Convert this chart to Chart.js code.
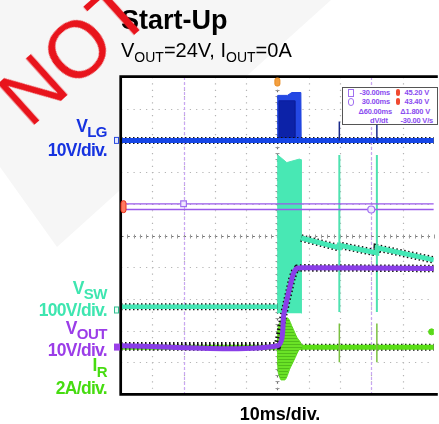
<!DOCTYPE html>
<html>
<head>
<meta charset="utf-8">
<title>Start-Up</title>
<script src="https://cdn.jsdelivr.net/npm/chart.js@4.4.1/dist/chart.umd.min.js"></script>
<style>
  html, body { margin: 0; padding: 0; background: #fff; }
  body { position: relative; width: 439px; height: 424px; overflow: hidden; font-family: "Liberation Sans", Arial, sans-serif; }
  #stampBg { position: absolute; left: 0; top: 0; width: 439px; height: 424px; background: #f6f6f6;
    clip-path: polygon(0 0, 0 167px, 57px 247px, 331px 0); }
  #scope { position: absolute; left: 0; top: 0; }
  .txt { position: absolute; white-space: nowrap; line-height: 1; }
  .lbl { font-weight: bold; font-size: 17.5px; letter-spacing: -0.7px; text-align: right; right: 332px; }
  .lbl sub { font-size: 15px; vertical-align: -5px; letter-spacing: -0.5px; line-height: 1; }
  .sub20 sub { font-size: 14px; vertical-align: -5px; line-height: 1; }
  #meas { position: absolute; left: 342px; top: 87px; width: 96px; height: 38px; box-sizing: border-box;
    border: 1px solid #555; background: #fff; }
  #meas .m { position: absolute; white-space: nowrap; line-height: 1; font-size: 7.5px; font-weight: bold; color: #8a4cf0; letter-spacing: -0.2px; }
  #meas .ic { position: absolute; width: 4px; height: 6px; border: 1px solid #a070f0; }
  #meas .rd { position: absolute; width: 4px; height: 7px; border-radius: 3px; background: #f04a30; }
  #stamp { position: absolute; left: 30px; top: 62.3px; font-size: 80px; line-height: 1; color: #e8141c;
    transform-origin: 0 67.7px; transform: rotate(-42deg); white-space: nowrap; }
</style>
</head>
<body>
<div id="stampBg"></div>
<canvas id="scope" width="439" height="424"></canvas>

<div class="txt" style="left:121px;top:7.1px;font-size:27px;font-weight:bold;">Start-Up</div>
<div class="txt sub20" style="left:121px;top:40.4px;font-size:20px;">V<sub>OUT</sub>=24V, I<sub>OUT</sub>=0A</div>

<div class="txt lbl" style="top:118.2px;color:#1633e0;">V<sub>LG</sub></div>
<div class="txt lbl" style="top:142.2px;color:#1633e0;">10V/div.</div>
<div class="txt lbl" style="top:280.2px;color:#3ee6b0;">V<sub>SW</sub></div>
<div class="txt lbl" style="top:302.2px;color:#3ee6b0;">100V/div.</div>
<div class="txt lbl" style="top:320.2px;color:#9b3de8;">V<sub>OUT</sub></div>
<div class="txt lbl" style="top:342.2px;color:#9b3de8;">10V/div.</div>
<div class="txt lbl" style="top:357.2px;color:#46dc10;">I<sub style="vertical-align:-6px">R</sub></div>
<div class="txt lbl" style="top:380.2px;color:#46dc10;">2A/div.</div>

<div class="txt" style="left:280px;top:404.8px;font-size:18px;font-weight:bold;transform:translateX(-50%);">10ms/div.</div>

<div id="meas">
  <div class="ic" style="left:5px;top:1px;"></div>
  <div class="ic" style="left:5px;top:10px;border-radius:3px;"></div>
  <div class="m" style="right:47px;top:1px;">-30.00ms</div>
  <div class="m" style="right:47px;top:10px;">30.00ms</div>
  <div class="rd" style="left:53px;top:1px;"></div>
  <div class="rd" style="left:53px;top:10px;"></div>
  <div class="m" style="right:8px;top:1px;">45.20 V</div>
  <div class="m" style="right:8px;top:10px;">43.40 V</div>
  <div class="m" style="right:45px;top:20px;">Δ60.00ms</div>
  <div class="m" style="right:7px;top:20px;">Δ1.800 V</div>
  <div class="m" style="left:27px;top:29px;">dV/dt</div>
  <div class="m" style="right:4px;top:29px;">-30.00 V/s</div>
</div>

<div id="stamp">NOT</div>

<script>
// time axis, 10 ms/div, trigger at 0
const timeMin = -50;
const timeMax = 50;

// V_LG, 10 V/div
const vlgLineT = [-50, 50];
const vlgLineV = [0, 0];
const vlgBurstT = [0, 0.1, 3.2, 4.6, 7.5, 7.6];
const vlgBurstV = [0, 14.2, 14.2, 15.1, 15.1, 0];
const vlgCoreT = [0.4, 0.5, 5.5, 5.6];
const vlgCoreV = [0, 12.5, 12.5, 0];
const vlgSpikeT = [19.8, 31.8];
const vlgSpikeV = [0, 6];

// V_SW, 100 V/div
const vswPreT = [-50, 0];
const vswPreV = [10, 10];
const vswBurstT = [0, 0.1, 3.0, 7.0, 7.6, 7.7];
const vswBurstV = [-10, 489, 465, 476, 474, -10];
const vswDecayT = [7.6, 19.8, 19.9, 31.8, 31.9, 50];
const vswDecayV = [227, 196, 204, 180, 196, 158];
const vswSpikeT = [19.8, 31.8];
const vswSpikeV = [-6, 489];

// V_OUT, 10 V/div
const voutT = [-50, 0, 2.1, 4.7, 5.6, 6.4, 8, 50];
const voutV = [0.4, 0.4, 10.7, 21.8, 24.2, 24.9, 25, 24.8];
const cursorT = [-30, 30];
const cursorV = [45.2, 43.4];

// I_R, 2 A/div
const irLineT = [-50, 50];
const irLineA = [0, 0];
const irTopT = [0, 0.1, 0.8, 1.6, 3.2, 4.7, 6.3, 7.3, 7.9];
const irTopA = [0, 0.9, 1.55, 1.85, 1.85, 1.3, 0.6, 0.33, 0.08];
const irBotT = [0, 0.1, 0.6, 1.2, 2.3, 4.1, 5.7, 6.8, 7.9];
const irBotA = [0, -1.1, -1.8, -2.06, -2.06, -1.3, -0.65, -0.2, -0.08];
const irSpikeT = [19.8, 31.8];
const irSpikeA = [-0.95, 1.5];
const irRefT = [49.3];
const irRefA = [0.97];

const pts = (ts, vs) => ts.map((t, i) => ({ x: t, y: vs[i] }));
const spikes = (ts, range) =>
  ts.flatMap((t) => [{ x: t, y: range[0] }, { x: t, y: range[1] }, { x: t, y: null }]);

function stripes() {
  const c = document.createElement("canvas");
  c.width = 4;
  c.height = 3;
  const g = c.getContext("2d");
  g.fillStyle = "#6ae226";
  g.fillRect(0, 0, 4, 3);
  g.fillStyle = "#50bc1a";
  g.fillRect(0, 2, 4, 1);
  return g.createPattern(c, "repeat");
}

const line = (data, yAxisID, color, width, order, extra) =>
  Object.assign(
    { data, yAxisID, borderColor: color, borderWidth: width, order, pointRadius: 0, fill: false, tension: 0 },
    extra || {}
  );
const under = { borderDash: [1.5, 2.5] };
const smooth = { cubicInterpolationMode: "monotone" };

const datasets = [
  // V_SW
  line(pts(vswBurstT, vswBurstV), "vsw", "#52e6b6", 1, 30, { fill: "shape", backgroundColor: "#48e8b4" }),
  line(pts(vswPreT, vswPreV), "vsw", "#111", 7, 29.5, under),
  line(pts(vswPreT, vswPreV), "vsw", "#44e8b6", 4.5, 29),
  line(pts(vswDecayT, vswDecayV), "vsw", "#111", 7.5, 28.5, under),
  line(pts(vswDecayT, vswDecayV), "vsw", "#44e8b6", 5, 28),
  line(spikes(vswSpikeT, vswSpikeV), "vsw", "#4ee2b0", 2, 27),
  // V_LG
  line(pts(vlgBurstT, vlgBurstV), "vlg", "#1f44e0", 1, 26, { fill: "shape", backgroundColor: "#2448e4" }),
  line(pts(vlgCoreT, vlgCoreV), "vlg", "#0c1f9e", 1, 25.5, { fill: "shape", backgroundColor: "#0c22a8" }),
  line(pts(vlgLineT, vlgLineV), "vlg", "#111", 7, 25.2, under),
  line(pts(vlgLineT, vlgLineV), "vlg", "#1646e6", 5, 25),
  line(spikes(vlgSpikeT, vlgSpikeV), "vlg", "#1a2a8a", 1.5, 24.8),
  // cursors
  line(pts([timeMin, timeMax], [cursorV[0], cursorV[0]]), "vout", "#9a58ea", 1.3, 24),
  line(pts([timeMin, timeMax], [cursorV[1], cursorV[1]]), "vout", "#9a58ea", 1.3, 23.9),
  // I_R
  line(pts(irLineT, irLineA), "ir", "#111", 7, 22.5, under),
  line(pts(irLineT, irLineA), "ir", "#5ade16", 5, 22),
  line(spikes(irSpikeT, irSpikeA), "ir", "#7ac040", 1.5, 21.5),
  line(pts(irTopT, irTopA), "ir", "#58d818", 1, 21, smooth),
  line(pts(irBotT, irBotA), "ir", "#58d818", 1, 21, Object.assign({ fill: "-1", backgroundColor: stripes() }, smooth)),
  // V_OUT
  line(pts(voutT, voutV), "vout", "#111", 7.5, 20.5, under),
  line(pts(voutT, voutV), "vout", "#8a3ee8", 5, 20, { tension: 0.25 }),
  // markers
  line(pts([cursorT[0]], [cursorV[0]]), "vout", "#a070f0", 1.2, 5, {
    showLine: false, pointStyle: "rect", pointRadius: 4, pointBackgroundColor: "#f0e8ff", pointBorderColor: "#a070f0",
  }),
  line(pts([cursorT[1]], [cursorV[1]]), "vout", "#a070f0", 1.2, 5, {
    showLine: false, pointStyle: "circle", pointRadius: 3.5, pointBackgroundColor: "#f0e8ff", pointBorderColor: "#a070f0",
  }),
  line(pts(irRefT, irRefA), "ir", "#58d818", 1, 5, {
    showLine: false, pointRadius: 3, pointBackgroundColor: "#58d818", pointBorderColor: "#58d818",
  }),
];

function roundBox(ctx, x, y, w, h, r) {
  ctx.beginPath();
  ctx.roundRect(x, y, w, h, r);
}

const scopePlugin = {
  id: "scope",
  beforeDatasetsDraw(chart) {
    const { ctx, chartArea: a, scales } = chart;
    const xs = scales.x;
    const ds = scales.div;
    const stepX = xs.getPixelForValue(2) - xs.getPixelForValue(0);
    const stepY = ds.getPixelForValue(0) - ds.getPixelForValue(0.2);
    ctx.save();
    ctx.fillStyle = "#fff";
    ctx.fillRect(a.left, a.top, a.right - a.left, a.bottom - a.top);

    // dotted grid
    ctx.lineWidth = 1.2;
    ctx.strokeStyle = "#b4b4b4";
    ctx.setLineDash([1.2, stepY - 1.2]);
    for (let t = timeMin + 10; t < timeMax; t += 10) {
      if (t === 0) continue;
      const px = Math.round(xs.getPixelForValue(t)) + 0.5;
      ctx.beginPath();
      ctx.moveTo(px, a.top);
      ctx.lineTo(px, a.bottom);
      ctx.stroke();
    }
    ctx.setLineDash([1.2, stepX - 1.2]);
    for (let d = 1; d < 10; d++) {
      if (d === 5) continue;
      const py = Math.round(ds.getPixelForValue(d)) + 0.5;
      ctx.beginPath();
      ctx.moveTo(a.left, py);
      ctx.lineTo(a.right, py);
      ctx.stroke();
    }

    // centre cross with ticks
    const cx = Math.round(xs.getPixelForValue(0)) + 0.5;
    const cy = Math.round(ds.getPixelForValue(5)) + 0.5;
    ctx.strokeStyle = "#707070";
    ctx.setLineDash([2.5, stepX - 2.5]);
    ctx.beginPath();
    ctx.moveTo(a.left, cy);
    ctx.lineTo(a.right, cy);
    ctx.stroke();
    ctx.setLineDash([2.5, stepY - 2.5]);
    ctx.beginPath();
    ctx.moveTo(cx, a.top);
    ctx.lineTo(cx, a.bottom);
    ctx.stroke();
    ctx.setLineDash([]);
    ctx.strokeStyle = "#9a9a9a";
    ctx.lineWidth = 1;
    ctx.beginPath();
    for (let t = timeMin; t <= timeMax; t += 2) {
      const px = Math.round(xs.getPixelForValue(t)) + 0.5;
      ctx.moveTo(px, cy - 2);
      ctx.lineTo(px, cy + 2);
    }
    for (let d = 0; d <= 10; d += 0.2) {
      const py = Math.round(ds.getPixelForValue(d)) + 0.5;
      ctx.moveTo(cx - 2, py);
      ctx.lineTo(cx + 2, py);
    }
    ctx.stroke();

    // vertical cursors
    ctx.strokeStyle = "#c8a6f2";
    ctx.lineWidth = 1.2;
    ctx.setLineDash([3, 2]);
    cursorT.forEach((t) => {
      const px = Math.round(xs.getPixelForValue(t)) + 0.5;
      ctx.beginPath();
      ctx.moveTo(px, a.top);
      ctx.lineTo(px, a.bottom);
      ctx.stroke();
    });
    ctx.restore();
  },
  afterDatasetsDraw(chart) {
    const { ctx, chartArea: a, scales } = chart;
    ctx.save();
    // frame (right side is cut off in the capture)
    ctx.strokeStyle = "#000";
    ctx.lineWidth = 2.7;
    ctx.beginPath();
    ctx.moveTo(a.right + 4, a.top - 0.3);
    ctx.lineTo(a.left - 0.3, a.top - 0.3);
    ctx.lineTo(a.left - 0.3, a.bottom + 0.3);
    ctx.lineTo(a.right + 4, a.bottom + 0.3);
    ctx.stroke();

    // channel ground markers
    const yl = scales.vlg.getPixelForValue(0);
    const ysw = scales.vsw.getPixelForValue(0);
    const yo = scales.vout.getPixelForValue(0);
    ctx.lineWidth = 1;
    ctx.fillStyle = "#e2e8ff";
    ctx.strokeStyle = "#2a4ae0";
    ctx.fillRect(114.5, yl - 3, 4, 6);
    ctx.strokeRect(114.5, yl - 3, 4, 6);
    ctx.fillStyle = "#e6fff6";
    ctx.strokeStyle = "#2fbf90";
    ctx.fillRect(114.5, ysw - 3, 4, 6);
    ctx.strokeRect(114.5, ysw - 3, 4, 6);
    ctx.fillStyle = "#9a40e8";
    ctx.fillRect(114, yo - 3.5, 6, 7);

    // cursor reference marker
    const yc = (scales.vout.getPixelForValue(cursorV[0]) + scales.vout.getPixelForValue(cursorV[1])) / 2;
    ctx.fillStyle = "#ff7a60";
    ctx.strokeStyle = "#e8301c";
    roundBox(ctx, a.left, yc - 6, 5, 12, 2.5);
    ctx.fill();
    ctx.stroke();

    // trigger marker
    const xt = scales.x.getPixelForValue(0);
    ctx.fillStyle = "#f4a040";
    ctx.strokeStyle = "#e88a20";
    roundBox(ctx, xt - 2.5, a.top + 1, 5, 8, 2);
    ctx.fill();
    ctx.stroke();
    ctx.restore();
  },
};

new Chart(document.getElementById("scope"), {
  type: "line",
  data: { datasets },
  options: {
    responsive: false,
    devicePixelRatio: 1,
    animation: false,
    layout: { padding: { left: 121, top: 77, right: 0.5, bottom: 30 } },
    plugins: { legend: { display: false }, tooltip: { enabled: false } },
    scales: {
      x: { type: "linear", min: timeMin, max: timeMax, display: false },
      div: { type: "linear", position: "left", min: 0, max: 10, display: false },
      vlg: { type: "linear", position: "left", min: -80, max: 20, display: false },
      vsw: { type: "linear", position: "left", min: -265, max: 735, display: false },
      vout: { type: "linear", position: "left", min: -14.8, max: 85.2, display: false },
      ir: { type: "linear", position: "left", min: -2.95, max: 17.05, display: false },
    },
  },
  plugins: [scopePlugin],
});
</script>
</body>
</html>
